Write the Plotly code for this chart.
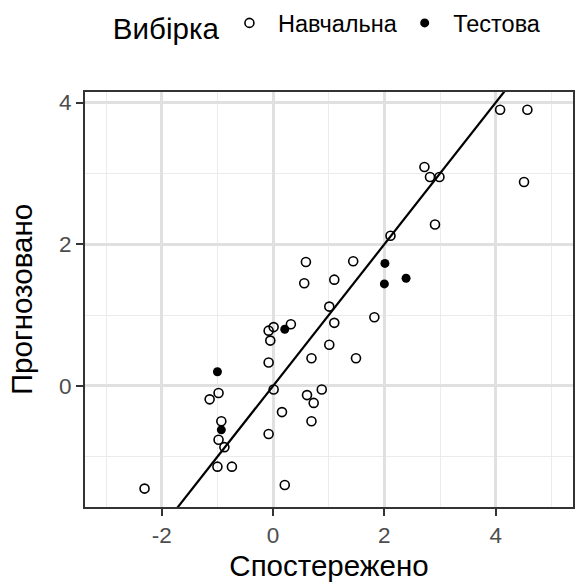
import plotly.graph_objects as go

# Data: observed (x) vs predicted (y)
train_obs = [-2.31, -1.00, -0.74, -0.875, -0.98, -0.93, -1.14, -0.98, 0.21, -0.08,
             0.16, 0.01, -0.08, -0.05, -0.08, 0.01, 0.32, 0.69, 0.73, 0.61,
             0.875, 0.69, 1.01, 1.10, 1.01, 1.49, 1.82, 0.56, 0.59, 1.10,
             1.44, 2.11, 2.91, 2.72, 2.82, 2.99, 4.51, 4.08, 4.57]
train_pred = [-1.45, -1.14, -1.14, -0.865, -0.76, -0.50, -0.19, -0.10, -1.40, -0.68,
              -0.37, -0.05, 0.33, 0.64, 0.78, 0.83, 0.87, -0.50, -0.24, -0.13,
              -0.05, 0.39, 0.58, 0.89, 1.12, 0.39, 0.97, 1.45, 1.75, 1.50,
              1.76, 2.12, 2.28, 3.09, 2.95, 2.95, 2.88, 3.90, 3.90]
test_obs = [2.01, 2.00, 2.39, 0.21, -1.00, -0.93]
test_pred = [1.73, 1.44, 1.52, 0.80, 0.20, -0.62]

# identity reference line y = x
ref_line = [-4, 6]

x_ticks = [-2, 0, 2, 4]
x_labels = ["-2", "0", "2", "4"]
x_minor = [-3, -1, 1, 3, 5]
y_ticks = [0, 2, 4]
y_labels = ["0", "2", "4"]
y_minor = [-1, 1, 3]

x_range = [-3.38, 5.39]
y_range = [-1.71, 4.15]

FONT = "Liberation Sans, Arial, sans-serif"
NB = "\u00a0"

fig = go.Figure()
fig.add_trace(go.Scatter(
    x=ref_line, y=ref_line, mode="lines",
    line=dict(color="black", width=2.2), showlegend=False, hoverinfo="skip"))
fig.add_trace(go.Scatter(
    x=train_obs, y=train_pred, mode="markers", name=NB + "Навчальна",
    marker=dict(symbol="circle-open", size=9, color="black", line=dict(width=1.6))))
fig.add_trace(go.Scatter(
    x=test_obs, y=test_pred, mode="markers", name=NB + "Тестова",
    marker=dict(symbol="circle", size=9, color="black")))

axis_common = dict(
    showline=True, mirror=True, linecolor="#333333", linewidth=1.8,
    ticks="outside", ticklen=7, tickwidth=1.8, tickcolor="#333333",
    tickfont=dict(family=FONT, size=22.5, color="#4D4D4D"),
    showgrid=True, gridcolor="#E0E0E0", gridwidth=2.5,
    zeroline=False, tickmode="array",
)

fig.update_xaxes(range=x_range, tickvals=x_ticks, ticktext=x_labels,
                 minor=dict(tickmode="array", tickvals=x_minor, showgrid=True,
                            gridcolor="#EBEBEB", gridwidth=1.4, ticks=""),
                 title=dict(text="Спостережено", standoff=8,
                            font=dict(family=FONT, size=29.5, color="black")),
                 **axis_common)
fig.update_yaxes(range=y_range, tickvals=y_ticks, ticktext=y_labels,
                 minor=dict(tickmode="array", tickvals=y_minor, showgrid=True,
                            gridcolor="#EBEBEB", gridwidth=1.4, ticks=""),
                 title=dict(text="Прогнозовано", standoff=18,
                            font=dict(family=FONT, size=29.5, color="black")),
                 **axis_common)

fig.update_layout(
    width=576, height=583,
    margin=dict(l=85, r=1, t=89, b=76),
    paper_bgcolor="white", plot_bgcolor="white",
    font=dict(family=FONT, color="black"),
    legend=dict(
        orientation="h", x=0.053, xanchor="left", y=1.16, yanchor="middle",
        title=dict(text="Вибірка", font=dict(family=FONT, size=29.5, color="black"), side="left"),
        font=dict(family=FONT, size=23.5, color="black"),
        itemwidth=34, tracegroupgap=0,
    ),
)

fig.write_html("out.html")
